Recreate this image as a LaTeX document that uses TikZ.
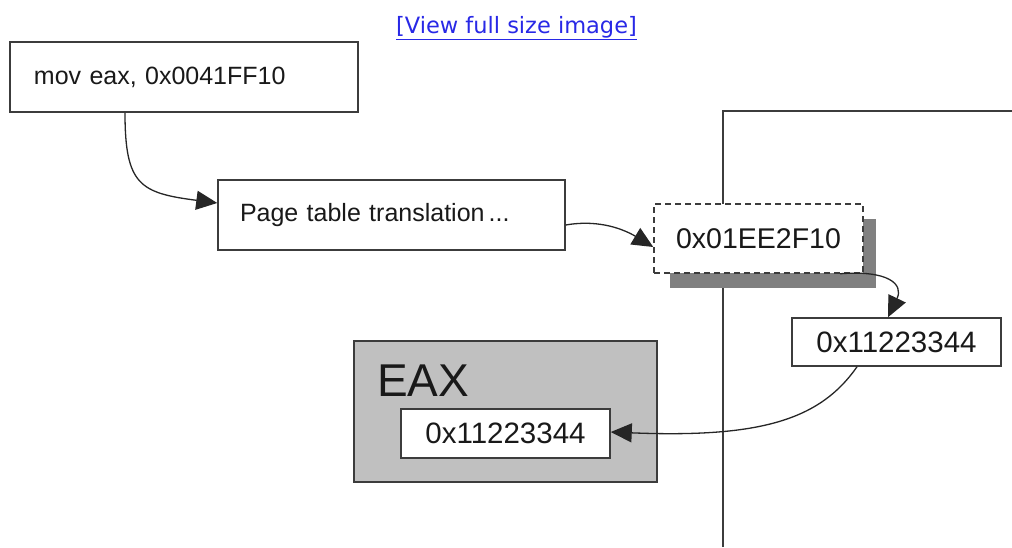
\documentclass[tikz,border=0pt]{standalone}
\usepackage{fontspec}
\setmainfont{Liberation Sans}
\newfontfamily\linkfont{DejaVu Sans}
\usetikzlibrary{arrows.meta,calc}
\definecolor{linkblue}{RGB}{40,40,230}
\definecolor{edge}{RGB}{60,60,60}
\definecolor{shadowgray}{RGB}{128,128,128}
\definecolor{regfill}{RGB}{192,192,192}
\tikzset{
  box/.style={draw=edge, line width=1.5pt, fill=white, rectangle, inner sep=0pt, text=black!90},
  conn/.style={draw=black!85, line width=1.3pt, -{Triangle[length=21pt,width=19pt]}},
  plainline/.style={draw=edge, line width=1.5pt},
}
\begin{document}
\begin{tikzpicture}[x=1pt,y=-1pt]
\useasboundingbox (0,0) rectangle (1012,547);
% link
\node[text=linkblue, font=\linkfont\fontsize{22.5}{26}\selectfont, inner sep=0pt] (link) at (516.5,28) {\underline{[View full size image]}};
% memory region lines
\coordinate (top) at (723,111);
\coordinate (bot) at (723,547);
\coordinate (rend) at (1012,111);
\draw[plainline] (bot) -- (top) -- (rend);
% boxes
\node[box, minimum width=348pt, minimum height=70pt, text width=300pt, inner xsep=24pt, align=left,
      font=\fontsize{25}{28}\selectfont] (b1) at (184,77) {mov eax, 0x0041FF10};
\node[box, minimum width=347pt, minimum height=70pt, text width=303pt, inner xsep=22pt, align=left,
      font=\fontsize{25}{28}\selectfont] (b2) at (391.5,215) {Page table translation\,...};
% shadow + dashed box
\fill[shadowgray] (670,219) rectangle (876,288);
\node[box, dash pattern=on 6pt off 4pt, minimum width=209pt, minimum height=69pt,
      font=\fontsize{28.5}{32}\selectfont] (pa) at (758.5,238.5) {0x01EE2F10};
\node[box, minimum width=209pt, minimum height=48pt,
      font=\fontsize{29.5}{32}\selectfont] (mem) at (896.5,342) {0x11223344};
% EAX register
\node[box, fill=regfill, draw=edge, minimum width=303pt, minimum height=141pt] (eax) at (505.5,411.5) {};
\node[anchor=base west, inner sep=0pt, font=\fontsize{46}{50}\selectfont, text=black!90] (eaxlbl) at (377,396) {EAX};
\node[box, minimum width=209pt, minimum height=49pt,
      font=\fontsize{29.5}{32}\selectfont] (reg) at (505.5,433.5) {0x11223344};
% connectors
\draw[conn] ([xshift=-59pt]b1.south) .. controls (125,185) and (140,193) .. ([yshift=12pt]b2.west);
\draw[conn] ([yshift=-10pt]b2.east) .. controls (600,219) and (625,230) .. ([yshift=-8.5pt]pa.west);
\draw[conn] ([xshift=81.5pt]pa.south) .. controls (888,270) and (904,284) .. ([xshift=-8.5pt]mem.north);
\draw[conn] ([xshift=-39.5pt]mem.south) .. controls (820,420) and (760,438) .. ([yshift=1.5pt]reg.east);
\end{tikzpicture}
\end{document}
